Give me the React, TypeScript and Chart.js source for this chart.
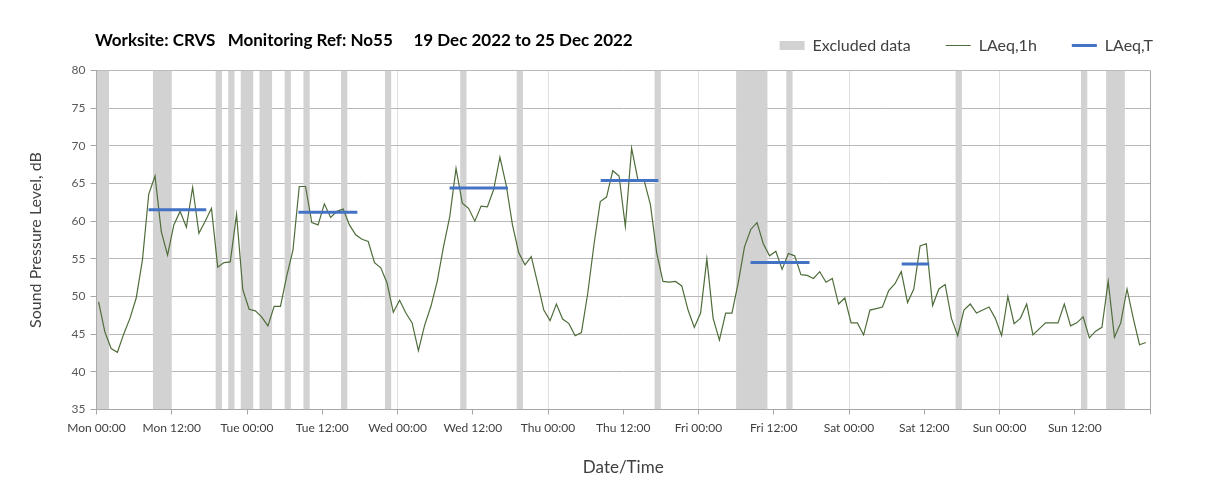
import React, { useEffect, useRef } from 'react';
import { Chart, registerables } from 'chart.js';

Chart.register(...registerables);

const FONT = 'Lato, "Open Sans", sans-serif';

const TITLE_TEXT = 'Worksite: CRVS   Monitoring Ref: No55     19 Dec 2022 to 25 Dec 2022';
const X_TITLE = 'Date/Time';
const Y_TITLE = 'Sound Pressure Level, dB';

const X_TICK_LABELS = [
  'Mon 00:00', 'Mon 12:00', 'Tue 00:00', 'Tue 12:00', 'Wed 00:00', 'Wed 12:00',
  'Thu 00:00', 'Thu 12:00', 'Fri 00:00', 'Fri 12:00', 'Sat 00:00', 'Sat 12:00',
  'Sun 00:00', 'Sun 12:00', '',
];

const Y_MIN = 35;
const Y_MAX = 80;
const WEEK_HOURS = 168;
const READING_OFFSET_H = 1 / 3;

// Hourly LAeq,1h values (dB), hour 0 = Mon 00:00
const LAEQ_1H = [
  49.3, 45.3, 43.1, 42.6, 45.0, 47.1, 49.8, 54.9, 63.6, 66.0, 58.6, 55.5,
  59.5, 61.3, 59.2, 64.5, 58.4, 60.0, 61.7, 53.9, 54.5, 54.6, 60.9, 50.9,
  48.3, 48.1, 47.3, 46.1, 48.7, 48.7, 52.7, 56.2, 64.6, 64.6, 59.8, 59.5,
  62.3, 60.5, 61.3, 61.6, 59.5, 58.2, 57.6, 57.3, 54.5, 53.8, 51.8, 47.9,
  49.5, 47.8, 46.5, 42.8, 46.2, 48.7, 52.0, 56.6, 60.6, 67.0, 62.4, 61.7,
  60.0, 62.0, 61.9, 64.2, 68.5, 64.8, 59.5, 55.8, 54.2, 55.3, 51.8, 48.2,
  46.8, 49.0, 47.0, 46.4, 44.8, 45.2, 50.4, 56.9, 62.6, 63.2, 66.7, 66.0,
  59.3, 69.7, 65.5, 65.4, 62.2, 55.8, 52.0, 51.9, 52.0, 51.4, 48.2, 45.9,
  47.8, 55.0, 47.1, 44.2, 47.8, 47.8, 51.8, 56.6, 58.9, 59.8, 57.0, 55.4,
  56.0, 53.6, 55.7, 55.4, 52.9, 52.8, 52.4, 53.3, 51.9, 52.4, 49.0, 49.8,
  46.5, 46.5, 44.9, 48.2, 48.4, 48.6, 50.8, 51.7, 53.3, 49.2, 51.0, 56.7,
  57.0, 48.8, 51.0, 51.6, 47.1, 44.8, 48.2, 49.0, 47.8, 48.2, 48.6, 47.1,
  44.8, 50.0, 46.4, 47.1, 49.0, 44.9, 45.7, 46.5, 46.5, 46.5, 49.0, 46.1,
  46.5, 47.3, 44.5, 45.4, 45.9, 52.0, 44.6, 46.5, 51.0, 47.1, 43.6, 43.9,
];

// LAeq,T daytime periods (hours from Mon 00:00)
const LAEQ_T_START = [8.3, 32.2, 56.3, 80.4, 104.3, 128.4];
const LAEQ_T_END = [17.5, 41.6, 65.6, 89.6, 113.7, 132.8];
const LAEQ_T_VALUE = [61.5, 61.2, 64.4, 65.4, 54.5, 54.3];

// Excluded data periods (hours from Mon 00:00)
const EXCLUDED_START = [0, 9, 19, 21, 23, 26, 30, 33, 39, 46, 58, 67, 89, 102, 110, 137, 157, 161];
const EXCLUDED_END = [2, 12, 20, 22, 25, 28, 31, 34, 40, 47, 59, 68, 90, 107, 111, 138, 158, 164];

const headerTitlePlugin = {
  id: 'headerTitle',
  afterDraw(chart: any) {
    const { ctx, chartArea } = chart;
    ctx.save();
    ctx.font = `bold 17px ${FONT}`;
    ctx.fillStyle = '#000000';
    ctx.textAlign = 'left';
    ctx.textBaseline = 'middle';
    ctx.fillText(TITLE_TEXT, chartArea.left - 1.5, 41);
    ctx.restore();
  },
};

export default function App() {
  const canvasRef = useRef<HTMLCanvasElement | null>(null);

  useEffect(() => {
    if (!canvasRef.current) return;

    const excludedData = EXCLUDED_START.flatMap((s, i) => [
      { x: s, y: Y_MIN },
      { x: s, y: Y_MAX },
      { x: EXCLUDED_END[i], y: Y_MAX },
      { x: EXCLUDED_END[i], y: Y_MIN },
    ]);
    const hourlyData = LAEQ_1H.map((v, i) => ({ x: i + READING_OFFSET_H, y: v }));
    const periodData = LAEQ_T_START.flatMap((s, i) => [
      { x: s, y: LAEQ_T_VALUE[i] },
      { x: LAEQ_T_END[i], y: LAEQ_T_VALUE[i] },
      { x: LAEQ_T_END[i], y: null },
    ]);

    const chart = new Chart(canvasRef.current, {
      type: 'line',
      data: {
        datasets: [
          {
            label: 'Excluded data',
            data: excludedData as any,
            borderWidth: 0,
            borderColor: 'rgba(0,0,0,0)',
            backgroundColor: '#d2d2d2',
            fill: 'start',
            pointRadius: 0,
            tension: 0,
            order: 3,
            pointStyle: 'rect',
          },
          {
            label: 'LAeq,1h',
            data: hourlyData as any,
            borderWidth: 1.2,
            borderColor: '#4f6d3a',
            backgroundColor: '#4f6d3a',
            fill: false,
            pointRadius: 0,
            tension: 0,
            order: 2,
            pointStyle: 'line',
          },
          {
            label: 'LAeq,T',
            data: periodData as any,
            borderWidth: 3,
            borderColor: '#4472c4',
            backgroundColor: '#4472c4',
            borderCapStyle: 'butt',
            fill: false,
            pointRadius: 0,
            tension: 0,
            spanGaps: false,
            order: 1,
            pointStyle: 'line',
          },
        ],
      },
      options: {
        animation: false,
        responsive: false,
        devicePixelRatio: 1,
        events: [],
        layout: { padding: { top: 2.5, right: 20, left: 0, bottom: 0 } },
        plugins: {
          title: { display: false },
          tooltip: { enabled: false },
          legend: {
            display: true,
            position: 'top',
            align: 'end',
            labels: {
              usePointStyle: true,
              pointStyleWidth: 25,
              boxHeight: 9,
              padding: 35,
              color: '#404040',
              font: { family: FONT, size: 16 },
              sort: (a: any, b: any) => a.datasetIndex - b.datasetIndex,
            },
          },
        },
        scales: {
          x: {
            type: 'linear',
            position: 'bottom',
            min: 0,
            max: WEEK_HOURS,
            ticks: {
              stepSize: 12,
              autoSkip: false,
              maxRotation: 0,
              minRotation: 0,
              color: '#404040',
              padding: 6,
              font: { family: FONT, size: 12 },
              callback: (v: any) => X_TICK_LABELS[Math.round(Number(v) / 12)] ?? '',
            },
            grid: {
              color: (ctx: any) => {
                const v = ctx.tick ? ctx.tick.value : -1;
                if (v === 0 || v === WEEK_HOURS) return '#a6a6a6';
                return v % 24 === 0 ? '#e0e0e0' : 'rgba(0,0,0,0)';
              },
              tickColor: '#a6a6a6',
              tickLength: 5,
              lineWidth: 1,
            },
            border: { color: '#a6a6a6' },
            title: {
              display: true,
              text: X_TITLE,
              color: '#404040',
              font: { family: FONT, size: 17 },
              padding: { top: 0, bottom: 24 },
            },
            afterFit: (s: any) => {
              s.height = 92.5;
            },
          },
          xTop: {
            type: 'linear',
            position: 'top',
            display: true,
            grid: { display: false },
            ticks: { display: false },
            border: { display: false },
            afterFit: (s: any) => {
              s.height = 7;
            },
          },
          y: {
            type: 'linear',
            position: 'left',
            min: Y_MIN,
            max: Y_MAX,
            ticks: {
              stepSize: 5,
              color: '#595959',
              padding: 5,
              font: { family: FONT, size: 12 },
            },
            grid: {
              color: '#b8b8b8',
              tickColor: '#a6a6a6',
              tickLength: 6,
            },
            border: { color: '#a6a6a6' },
            title: {
              display: true,
              text: Y_TITLE,
              color: '#404040',
              font: { family: FONT, size: 16 },
              padding: { top: 26, bottom: 0 },
            },
            afterFit: (s: any) => {
              s.width = 96.5;
            },
          },
          yRight: {
            type: 'linear',
            position: 'right',
            display: true,
            grid: { display: false },
            ticks: { display: false },
            border: { display: false },
            afterFit: (s: any) => {
              s.width = 38;
            },
          },
        },
      } as any,
      plugins: [headerTitlePlugin],
    });

    return () => chart.destroy();
  }, []);

  return (
    <div
      style={{
        position: 'fixed',
        left: 0,
        top: 0,
        width: 1208,
        height: 502,
        background: '#ffffff',
      }}
    >
      <canvas ref={canvasRef} width={1208} height={502} style={{ width: 1208, height: 502, display: 'block' }} />
    </div>
  );
}
